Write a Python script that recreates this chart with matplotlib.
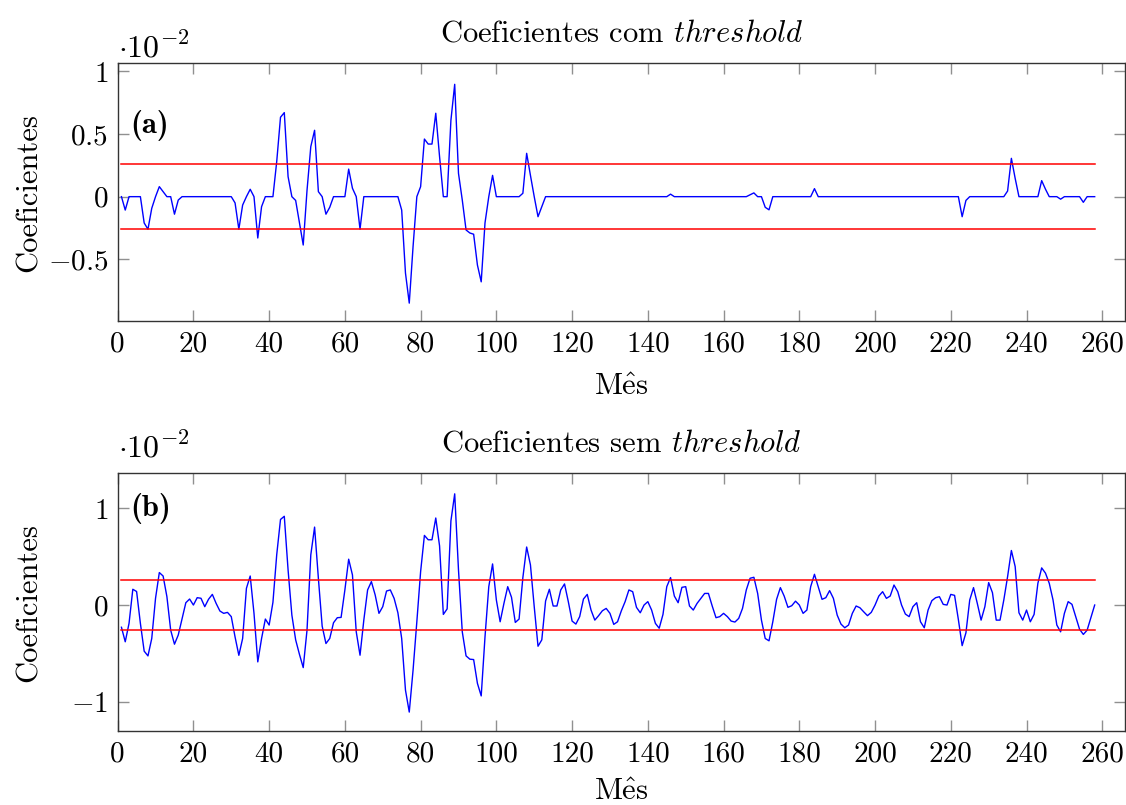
import numpy as np
import matplotlib
matplotlib.use('Agg')
import matplotlib.pyplot as plt

plt.rcParams['font.family'] = ['cmr10', 'DejaVu Serif']
plt.rcParams['mathtext.fontset'] = 'cm'
plt.rcParams['axes.unicode_minus'] = False

# meses da serie
meses = np.arange(1, 259)

# coeficientes apos o threshold (a)
coef_thr = [
    0, -0.107, 0, 0, 0, 0, -0.21, -0.26, -0.093, 0.0,
    0.08, 0.04, 0, 0, -0.14, -0.027, 0, 0, 0, 0,
    0, 0, 0, 0, 0, 0, 0, 0, 0, 0,
    -0.05, -0.26, -0.067, 0.0, 0.059, 0, -0.33, -0.08, 0, 0,
    0, 0.28, 0.634, 0.671, 0.16, 0, -0.03, -0.21, -0.386, 0.05,
    0.4, 0.53, 0.04, 0, -0.14, -0.085, 0, 0, 0, 0,
    0.22, 0.067, 0, -0.26, 0, 0, 0, 0, 0, 0,
    0, 0, 0, 0, -0.107, -0.61, -0.85, -0.40, 0, 0.08,
    0.46, 0.42, 0.42, 0.666, 0.32, 0, 0, 0.61, 0.897, 0.186,
    -0.027, -0.266, -0.29, -0.30, -0.546, -0.68, -0.21, 0, 0.17, 0,
    0, 0, 0, 0, 0, 0, 0.027, 0.346, 0.17, 0.0,
    -0.16, -0.08, 0, 0, 0, 0, 0, 0, 0, 0,
    0, 0, 0, 0, 0, 0, 0, 0, 0, 0,
    0, 0, 0, 0, 0, 0, 0, 0, 0, 0,
    0, 0, 0, 0, 0, 0.02, 0, 0, 0, 0,
    0, 0, 0, 0, 0, 0, 0, 0, 0, 0,
    0, 0, 0, 0, 0, 0, 0.015, 0.03, 0.0, 0,
    -0.085, -0.105, 0, 0, 0, 0, 0, 0, 0, 0,
    0, 0, 0, 0.064, 0, 0, 0, 0, 0, 0,
    0, 0, 0, 0, 0, 0, 0, 0, 0, 0,
    0, 0, 0, 0, 0, 0, 0, 0, 0, 0,
    0, 0, 0, 0, 0, 0, 0, 0, 0, 0,
    0, 0, -0.16, -0.03, 0, 0, 0, 0, 0, 0,
    0, 0, 0, 0, 0.045, 0.306, 0.146, 0, 0, 0,
    0, 0, 0, 0.128, 0.06, 0, 0, 0, -0.02, 0,
    0, 0, 0, 0, -0.045, 0, 0, 0,
]

# coeficientes originais (b)
coef_raw = [
    -0.23, -0.38, -0.19, 0.163, 0.14, -0.19, -0.477, -0.526, -0.346, 0.07,
    0.336, 0.30, 0.087, -0.26, -0.405, -0.31, -0.145, 0.024, 0.062, 0.0,
    0.076, 0.07, -0.017, 0.06, 0.11, 0.017, -0.062, -0.086, -0.076, -0.12,
    -0.33, -0.52, -0.346, 0.173, 0.30, -0.086, -0.588, -0.346, -0.145, -0.207,
    0.028, 0.52, 0.885, 0.918, 0.363, -0.104, -0.36, -0.51, -0.647, -0.26,
    0.519, 0.806, 0.277, -0.218, -0.398, -0.346, -0.183, -0.131, -0.128, 0.156,
    0.474, 0.311, -0.277, -0.519, -0.156, 0.156, 0.242, 0.104, -0.086, -0.017,
    0.145, 0.156, 0.069, -0.08, -0.346, -0.88, -1.107, -0.675, -0.173, 0.346,
    0.72, 0.675, 0.675, 0.9, 0.612, -0.097, -0.04, 0.87, 1.15, 0.363,
    -0.277, -0.526, -0.56, -0.564, -0.81, -0.94, -0.33, 0.19, 0.425, 0.052,
    -0.173, 0.017, 0.19, 0.08, -0.18, -0.145, 0.284, 0.6, 0.415, -0.017,
    -0.426, -0.36, 0.042, 0.163, -0.01, -0.01, 0.156, 0.218, 0.035, -0.166,
    -0.197, -0.12, 0.062, 0.11, -0.052, -0.156, -0.11, -0.059, -0.035, -0.086,
    -0.2, -0.173, -0.06, 0.035, 0.156, 0.138, -0.024, -0.08, 0.0, 0.035,
    -0.052, -0.19, -0.24, -0.097, 0.19, 0.284, 0.093, 0.024, 0.183, 0.19,
    -0.01, -0.052, 0.017, 0.069, 0.12, 0.12, -0.01, -0.131, -0.12, -0.086,
    -0.12, -0.166, -0.176, -0.138, -0.035, 0.156, 0.277, 0.287, 0.12, -0.156,
    -0.346, -0.37, -0.173, 0.059, 0.18, 0.093, -0.024, -0.007, 0.04, 0.0,
    -0.086, -0.052, 0.19, 0.318, 0.19, 0.059, 0.076, 0.149, 0.069, -0.104,
    -0.197, -0.235, -0.207, -0.086, -0.01, -0.028, -0.07, -0.11, -0.076, 0.0,
    0.093, 0.138, 0.069, 0.093, 0.207, 0.138, 0.0, -0.093, -0.12, -0.017,
    0.024, -0.173, -0.235, -0.052, 0.045, 0.076, 0.086, 0.007, 0.0, 0.11,
    0.1, -0.15, -0.42, -0.287, 0.052, 0.18, 0.017, -0.156, -0.017, 0.232,
    0.128, -0.156, -0.156, 0.052, 0.294, 0.564, 0.398, -0.08, -0.156, -0.052,
    -0.173, -0.097, 0.225, 0.384, 0.33, 0.225, 0.052, -0.207, -0.277, -0.086,
    0.035, 0.007, -0.12, -0.25, -0.304, -0.26, -0.131, 0.0,
]

limiar = 0.258

titulos = [r'Coeficientes com $\mathit{threshold}$',
           r'Coeficientes sem $\mathit{threshold}$']
rotulos = ['(a)', '(b)']
yticks = [[-0.5, 0, 0.5, 1], [-1, 0, 1]]
ytick_labels = [[r'$-0.5$', r'$0$', r'$0.5$', r'$1$'],
                [r'$-1$', r'$0$', r'$1$']]
xticks = list(range(0, 261, 20))
ylims = [(-0.993, 1.065), (-1.303, 1.362)]
pos_rotulo = [0.76, 0.865]
pos_fator = [1.06, 1.10]
pad_xlabel = [12, 8]

fig = plt.figure(figsize=(11.26, 8.05), dpi=100)
ax_a = fig.add_axes([0.1045, 0.6012, 0.8946, 0.3202])
ax_b = fig.add_axes([0.1045, 0.0919, 0.8946, 0.3201])

for i, (ax, dados) in enumerate([(ax_a, coef_thr), (ax_b, coef_raw)]):
    ax.plot(meses, dados, color='blue', lw=1.0)
    ax.plot([meses[0], meses[-1]], [limiar, limiar], color='red', lw=1.1)
    ax.plot([meses[0], meses[-1]], [-limiar, -limiar], color='red', lw=1.1)

    ax.set_xlim(0, 266)
    ax.set_ylim(*ylims[i])
    ax.set_xticks(xticks)
    ax.set_xticklabels([str(t) for t in xticks])
    ax.set_yticks(yticks[i])
    ax.set_yticklabels(ytick_labels[i])

    ax.tick_params(direction='in', length=8, width=1, color='#909090',
                   top=True, right=True, labelsize=21, pad=7)
    for s in ax.spines.values():
        s.set_linewidth(1.0)
        s.set_color('#333333')

    ax.set_xlabel(r'M$\hat{\mathrm{e}}$s', fontsize=22, labelpad=pad_xlabel[i])
    ax.set_ylabel('Coeficientes', fontsize=22)
    ax.yaxis.set_label_coords(-0.074, 0.5)
    ax.set_title(titulos[i], fontsize=22, pad=16)

    # fator de escala do eixo y
    ax.text(0.0, pos_fator[i], r'$\cdot10^{-2}$', transform=ax.transAxes,
            fontsize=23, ha='left', va='center')
    ax.text(0.012, pos_rotulo[i], rotulos[i], transform=ax.transAxes,
            fontsize=22, fontfamily='cmb10', ha='left', va='center')

fig.savefig('out.png', dpi=100)
